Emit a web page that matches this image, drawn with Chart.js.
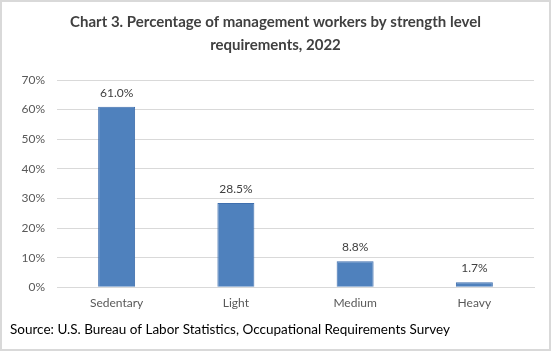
<!DOCTYPE html>
<html>
<head>
<meta charset="utf-8">
<script src="https://cdn.jsdelivr.net/npm/chart.js@4"></script>
<style>
html,body{margin:0;padding:0;background:#fff;}
#wrap{width:551px;height:351px;}
</style>
</head>
<body>
<div id="wrap"><canvas id="c" width="551" height="351"></canvas></div>
<script>
const categories = ["Sedentary", "Light", "Medium", "Heavy"];
const values = [61.0, 28.5, 8.8, 1.7];
const yTicks = [0, 10, 20, 30, 40, 50, 60, 70];
const titleLines = ["Chart 3. Percentage of management workers by strength level", "requirements, 2022"];
const sourceText = "Source: U.S. Bureau of Labor Statistics, Occupational Requirements Survey";

const FONT = "Lato, 'Open Sans', sans-serif";

const bgBorder = {
  id: 'bgBorder',
  beforeDraw(chart) {
    const ctx = chart.ctx;
    ctx.save();
    ctx.fillStyle = '#fff';
    ctx.fillRect(0, 0, chart.width, chart.height);
    ctx.restore();
  },
  afterDraw(chart) {
    const ctx = chart.ctx;
    ctx.save();
    ctx.strokeStyle = '#d9d9d9';
    ctx.lineWidth = 2;
    ctx.strokeRect(1, 1, chart.width - 2, chart.height - 2);
    ctx.restore();
  }
};

const labelsPlugin = {
  id: 'valLabels',
  afterDatasetsDraw(chart) {
    const ctx = chart.ctx;
    const meta = chart.getDatasetMeta(0);
    ctx.save();
    ctx.font = "12px " + FONT;
    ctx.fillStyle = '#404040';
    ctx.textAlign = 'center';
    ctx.textBaseline = 'bottom';
    meta.data.forEach((bar, i) => {
      ctx.fillText(values[i].toFixed(1) + '%', bar.x, bar.y - 8);
    });
    ctx.restore();
  }
};

new Chart(document.getElementById('c'), {
  type: 'bar',
  data: {
    labels: categories,
    datasets: [{
      data: values,
      backgroundColor: '#4f81bd',
      borderColor: '#3f6fae',
      borderWidth: 1,
      categoryPercentage: 1.0,
      barPercentage: 0.31
    }]
  },
  options: {
    responsive: false,
    animation: false,
    devicePixelRatio: 1,
    layout: { padding: { left: 10, right: 10, top: 0, bottom: 4 } },
    plugins: {
      legend: { display: false },
      tooltip: { enabled: false },
      title: {
        display: true,
        text: titleLines,
        color: '#404040',
        font: { family: FONT, size: 15, weight: 'bold', lineHeight: 1.5 },
        padding: { top: 11, bottom: 24 }
      },
      subtitle: {
        display: true,
        position: 'bottom',
        align: 'start',
        text: sourceText,
        color: '#000',
        font: { family: FONT, size: 13.5, lineHeight: 1.2 },
        padding: { top: 11.5, bottom: 9 }
      }
    },
    scales: {
      x: {
        afterFit(scale) { scale.height = 23; },
        grid: { display: false, drawTicks: false },
        border: { display: true, color: '#d9d9d9' },
        ticks: { color: '#595959', font: { family: FONT, size: 12 }, padding: 9 }
      },
      y: {
        min: 0,
        max: 70,
        afterBuildTicks(scale) { scale.ticks = yTicks.map(v => ({ value: v })); },
        afterFit(scale) { scale.width = 47; },
        grid: { color: '#d9d9d9', drawTicks: false },
        border: { display: false },
        ticks: {
          color: '#595959',
          font: { family: FONT, size: 12 },
          padding: 12,
          callback: v => v + '%'
        }
      },
      yR: {
        position: 'right',
        min: 0,
        max: 70,
        afterFit(scale) { scale.width = 7; },
        grid: { display: false, drawTicks: false },
        border: { display: false },
        ticks: { display: false }
      }
    }
  },
  plugins: [bgBorder, labelsPlugin]
});
</script>
</body>
</html>
